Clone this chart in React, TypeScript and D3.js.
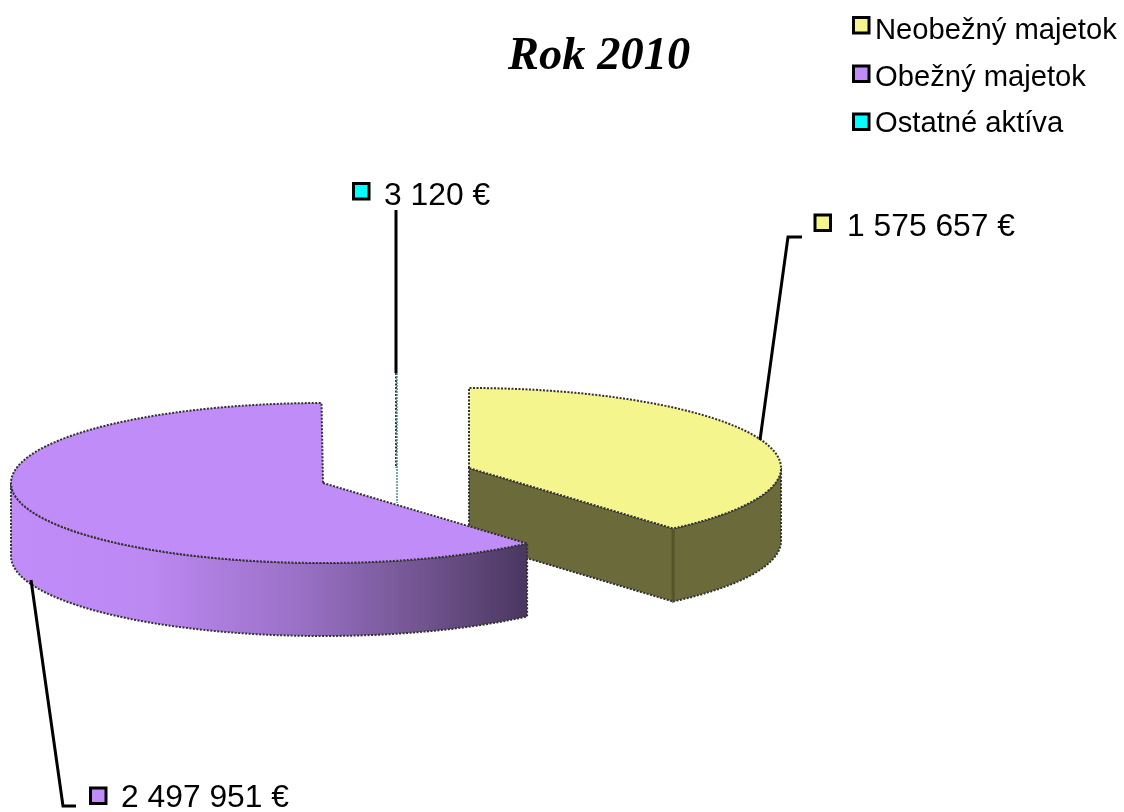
import { pie, line, range, scaleLinear } from 'd3'

const categories = ['Neobežný majetok', 'Obežný majetok', 'Ostatné aktíva']
const values = [1575657, 2497951, 3120]
const valueLabels = ['1 575 657 €', '2 497 951 €', '3 120 €']

const width = 1124
const height = 812
const font = '"Liberation Sans", Arial, sans-serif'
const edge = '#333'
const depth = 73
const rx = 312
const ry = 80

// one style/position entry per slice, same order as categories
const topColors = ['#F5F58E', '#C08CF8', '#00FFFF']
const wallColors = ['#6A6A3A', 'url(#purpleWall)', '#4c8c8c']
const centers = [
    { x: 469, y: 468 },
    { x: 323, y: 483 },
    { x: 396, y: 453 },
]
const labelPos = [
    { x: 847, y: 236, kx: 815, ky: 215 },
    { x: 121, y: 807, kx: 90.5, ky: 788 },
    { x: 384, y: 205, kx: 353.5, ky: 183.5 },
]
const leaders = [
    [[760, 440], [788, 237], [802, 237]],
    [[31, 580], [63, 806], [76, 806]],
    [[396, 210], [396, 373]],
]
const legendY = [39, 86, 132]
const legendKeyY = [17.5, 66, 114]

const arcs = pie<number>().sort(null)(values)
const path = line()

function ring(c: { x: number; y: number }, a0: number, a1: number, dy = 0): [number, number][] {
    const n = Math.max(2, Math.ceil((a1 - a0) * 60))
    return range(n + 1).map((i) => {
        const a = a0 + ((a1 - a0) * i) / n
        return [c.x + rx * Math.sin(a), c.y + dy - ry * Math.cos(a)] as [number, number]
    })
}

function Slice({ i }: { i: number }) {
    const c = centers[i]
    const { startAngle: a0, endAngle: a1 } = arcs[i]
    const apex: [number, number] = [c.x, c.y]
    const apexLow: [number, number] = [c.x, c.y + depth]
    const top = ring(c, a0, a1)

    // only the part of the rim that faces the viewer gets a wall
    const f0 = Math.max(a0, Math.PI / 2)
    const f1 = Math.min(a1, (3 * Math.PI) / 2)
    const rim = f1 > f0 ? [...ring(c, f0, f1), ...ring(c, f0, f1, depth).reverse()] : null

    // yellow slice shows its cut side, the purple one hides both
    const corner = ring(c, a1, a1)[0]
    const cornerLow = ring(c, a1, a1, depth)[0]
    const cut = a0 === 0 ? [apex, corner, cornerLow, apexLow] as [number, number][] : null

    const stroke = { stroke: edge, strokeWidth: 2, strokeDasharray: '2 1.5' }
    return (
        <g>
            {cut && <path d={path(cut) + 'Z'} fill={wallColors[i]} {...stroke} />}
            {rim && <path d={path(rim) + 'Z'} fill={wallColors[i]} {...stroke} />}
            {cut && <path d={path([corner, cornerLow]) ?? ''} stroke="#55552c" strokeWidth={3} />}
            <path d={path([apex, ...top]) + 'Z'} fill={topColors[i]} {...stroke} />
        </g>
    )
}

function Key({ x, y, color }: { x: number; y: number; color: string }) {
    return <rect x={x} y={y} width={15.5} height={15.5} fill={color} stroke="#000" strokeWidth={3} />
}

// side shading of the purple slice, dark towards the cut
const shadeX = scaleLinear().domain([13, 527]).range([0, 100])
const shadeStops = [
    { x: 13, c: '#C08CF8' },
    { x: 150, c: '#BC88F2' },
    { x: 300, c: '#9A70C6' },
    { x: 420, c: '#725590' },
    { x: 527, c: '#4A3760' },
]

export default function App() {
    return (
        <svg
            width={width}
            height={height}
            style={{ position: 'absolute', left: 0, top: 0, background: '#fff' }}
        >
            <defs>
                <linearGradient id="purpleWall" gradientUnits="userSpaceOnUse" x1={13} x2={527} y1={0} y2={0}>
                    {shadeStops.map((s) => (
                        <stop key={s.x} offset={`${shadeX(s.x)}%`} stopColor={s.c} />
                    ))}
                </linearGradient>
                {/* the source is an enlarged bitmap, so everything is a bit soft */}
                <filter id="soft" x="0" y="0" width="100%" height="100%" filterUnits="userSpaceOnUse">
                    <feGaussianBlur stdDeviation={0.55} />
                </filter>
            </defs>

            <g filter="url(#soft)">
                <text
                    x={508}
                    y={69}
                    fontFamily='"Liberation Serif", serif'
                    fontSize={46.5}
                    fontWeight="bold"
                    fontStyle="italic"
                >
                    Rok 2010
                </text>

                {categories.map((name, i) => (
                    <g key={name}>
                        <Key x={853.5} y={legendKeyY[i]} color={topColors[i]} />
                        <text x={875} y={legendY[i]} fontFamily={font} fontSize={29.2}>
                            {name}
                        </text>
                    </g>
                ))}

                {/* cyan sliver is too thin to fill, it reads as a dotted line */}
                <line x1={396} x2={396} y1={373} y2={468} stroke={edge} strokeWidth={2} strokeDasharray="2 1.5" />
                <line x1={397} x2={397} y1={373} y2={503} stroke={wallColors[2]} strokeWidth={1.5} strokeDasharray="2 1" />

                <Slice i={0} />
                <Slice i={1} />

                {leaders.map((pts, i) => (
                    <path key={i} d={path(pts as [number, number][]) ?? ''} fill="none" stroke="#000" strokeWidth={3} />
                ))}

                {valueLabels.map((label, i) => (
                    <g key={label}>
                        <Key x={labelPos[i].kx} y={labelPos[i].ky} color={topColors[i]} />
                        <text x={labelPos[i].x} y={labelPos[i].y} fontFamily={font} fontSize={31.8}>
                            {label}
                        </text>
                    </g>
                ))}
            </g>
        </svg>
    )
}
